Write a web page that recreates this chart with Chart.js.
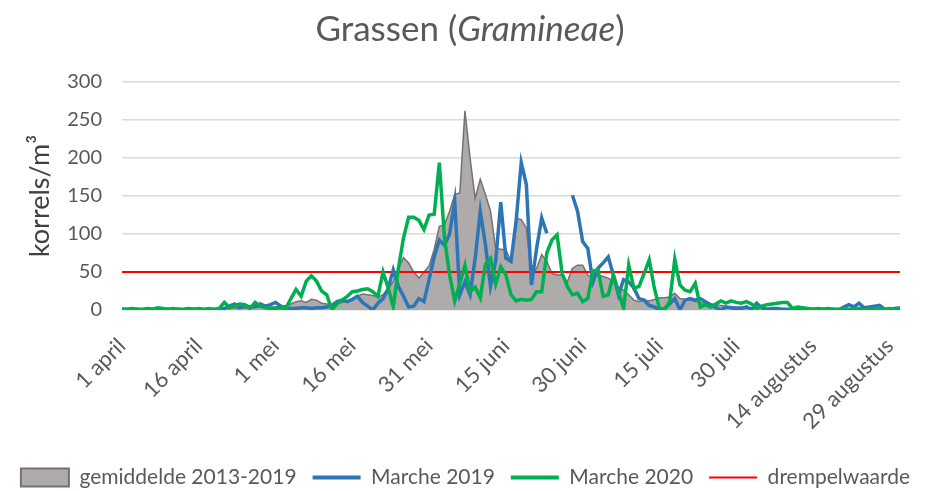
<!DOCTYPE html>
<html>
<head>
<meta charset="utf-8">
<script src="https://cdn.jsdelivr.net/npm/chart.js@4/dist/chart.umd.min.js"></script>
<style>
  body { margin: 0; background: #fff; }
  #wrap { position: relative; width: 931px; height: 491px; }
  #title {
    position: absolute; left: 0; top: 6px; width: 940px; text-align: center;
    font-family: Lato, sans-serif; font-size: 35px; color: #595959;
  }
</style>
</head>
<body>
<div id="wrap">
  <div id="title">Grassen (<i>Gramineae</i>)</div>
  <canvas id="chart" width="931" height="491"></canvas>
</div>
<script>
// day labels 1 april .. 31 augustus, only every 15th one is shown
const months = [["april", 30], ["mei", 31], ["juni", 30], ["juli", 31], ["augustus", 31]];
const days = [];
months.forEach(([name, n]) => {
  for (let d = 1; d <= n; d++) days.push(d + " " + name);
});

const seriesNames = ["gemiddelde 2013-2019", "Marche 2019", "Marche 2020", "drempelwaarde"];

const average = [
  0, 0, 0, 1, 0, 0, 1, 0, 1, 0, 1, 1, 0, 1, 1, 0, 1, 1, 2, 1,
  2, 2, 3, 2, 3, 2, 3, 4, 3, 4, 4, 5, 6, 8, 11, 12, 10, 14, 13, 9,
  8, 7, 9, 10, 12, 15, 18, 21, 20, 19, 17, 20, 28, 38, 55, 69, 62, 50, 42, 50,
  58, 80, 110, 112, 130, 152, 154, 262, 200, 147, 172, 152, 130, 81, 80, 79, 64, 121, 119, 108,
  46, 55, 73, 64, 48, 46, 46, 37, 55, 59, 59, 46, 42, 46, 44, 42, 37, 30, 26, 20,
  13, 11, 13, 12, 14, 16, 16, 17, 22, 15, 14, 13, 11, 10, 9, 8, 7, 6, 5, 4,
  4, 4, 3, 3, 3, 2, 2, 2, 1, 1, 1, 1, 1, 1, 1, 1, 1, 1, 1, 1,
  1, 1, 1, 1, 1, 1, 1, 1, 1, 1, 1, 1, 1
];

const marche2019 = [
  1, 1, 0, 1, 0, 0, 1, 0, 0, 1, 0, 1, 0, 0, 1, 0, 0, 1, 0, 1,
  2, 5, 8, 3, 6, 4, 5, 8, 5, 7, 10, 5, 2, 2, 2, 3, 3, 2, 3, 3,
  4, 6, 11, 13, 11, 14, 18, 10, 5, 0, 9, 15, 28, 53, 31, 18, 4, 5, 15, 11,
  40, 70, 92, 85, 100, 143, 20, 37, 20, 68, 130, 86, 31, 64, 142, 68, 64, 117, 194, 165,
  33, 81, 121, 101, null, null, null, null, 151, 130, 90, 81, 37, 55, 62, 70, 46, 20, 40, 37,
  29, 15, 13, 6, 4, 0, 2, 8, 15, 0, 13, 15, 13, 15, 11, 7, 3, 0, 4, 3,
  2, 2, 4, 1, 9, 3, 1, 2, 2, 1, 1, 0, 0, 1, 0, 1, 0, 1, 0, 1,
  0, 4, 7, 4, 9, 3, 4, 5, 6, 1, 1, 2, 3
];

const marche2020 = [
  1, 1, 2, 1, 1, 2, 1, 3, 2, 1, 2, 1, 1, 2, 1, 2, 1, 2, 1, 2,
  10, 3, 6, 8, 7, 2, 10, 5, 3, 2, 2, 3, 2, 15, 27, 18, 38, 45, 38, 25,
  20, 0, 8, 13, 18, 24, 25, 27, 28, 24, 18, 50, 29, 4, 55, 95, 122, 122, 118, 106,
  125, 126, 194, 95, 46, 12, 35, 59, 24, 30, 16, 60, 68, 34, 57, 46, 20, 12, 14, 13,
  14, 24, 24, 75, 92, 99, 48, 31, 20, 22, 11, 15, 51, 53, 18, 20, 46, 24, 2, 59,
  29, 31, 48, 66, 29, 2, 0, 11, 67, 33, 26, 24, 35, 4, 7, 4, 8, 12, 9, 12,
  10, 9, 11, 8, 2, 5, 7, 8, 9, 10, 10, 2, 4, 3, 2, 1, 2, 1, 2, 1,
  1, 2, 1, 1, 2, 1, 1, 2, 1, 1, 2, 1, 2
];

const threshold = days.map(() => 50);

const yTicks = [0, 50, 100, 150, 200, 250, 300];

const font = "Lato, sans-serif";
const grey = "#595959";

new Chart(document.getElementById("chart"), {
  type: "line",
  data: {
    labels: days,
    datasets: [
      {
        label: seriesNames[0],
        data: average,
        fill: "origin",
        backgroundColor: "#AFABAB",
        borderColor: "#767171",
        borderWidth: 1.5,
        pointRadius: 0,
        order: 4,
      },
      {
        label: seriesNames[1],
        data: marche2019,
        borderColor: "#2E75B6",
        backgroundColor: "#2E75B6",
        borderWidth: 3.5,
        pointRadius: 0,
        spanGaps: false,
        order: 2,
      },
      {
        label: seriesNames[2],
        data: marche2020,
        borderColor: "#00B050",
        backgroundColor: "#00B050",
        borderWidth: 3.5,
        pointRadius: 0,
        order: 1,
      },
      {
        label: seriesNames[3],
        data: threshold,
        borderColor: "#FF0000",
        backgroundColor: "#FF0000",
        borderWidth: 2,
        pointRadius: 0,
        order: 3,
      },
    ],
  },
  options: {
    responsive: false,
    animation: false,
    layout: {
      padding: { top: 82, left: 0, right: 0, bottom: -7 },
    },
    scales: {
      x: {
        grid: { display: false },
        border: { display: false },
        ticks: {
          autoSkip: false,
          minRotation: 45,
          maxRotation: 45,
          padding: 15,
          color: grey,
          font: { family: font, size: 22 },
          callback: (v, i) => (i % 15 === 0 && i <= 150 ? days[i] : null),
        },
        afterFit: (scale) => {
          scale.height = 141;
        },
      },
      y: {
        min: 0,
        max: 300,
        afterBuildTicks: (scale) => {
          scale.ticks = yTicks.map((v) => ({ value: v }));
        },
        grid: { color: "#D9D9D9", lineWidth: 1.5, drawTicks: false },
        border: { display: false },
        ticks: {
          padding: 20,
          color: grey,
          font: { family: font, size: 20 },
        },
        title: {
          display: true,
          text: "korrels/m³",
          color: "#404040",
          font: { family: font, size: 27 },
          padding: { top: 24, bottom: 0 },
        },
        afterFit: (scale) => {
          scale.width = 122;
        },
      },
      // empty axis on the right, only keeps the plot clear of the edge
      yRight: {
        position: "right",
        min: 0,
        max: 300,
        grid: { display: false },
        border: { display: false },
        ticks: { display: false },
        afterFit: (scale) => {
          scale.width = 31;
        },
      },
    },
    plugins: {
      tooltip: { enabled: false },
      legend: {
        position: "bottom",
        labels: {
          usePointStyle: true,
          pointStyleWidth: 48,
          boxHeight: 18,
          padding: 16,
          color: grey,
          font: { family: font, size: 21 },
          generateLabels: (chart) => {
            const items = Chart.defaults.plugins.legend.labels.generateLabels(chart);
            items.sort((a, b) => a.datasetIndex - b.datasetIndex);
            items.forEach((it) => {
              const ds = chart.data.datasets[it.datasetIndex];
              if (it.datasetIndex === 0) {
                it.pointStyle = "rect";
                it.fillStyle = ds.backgroundColor;
                it.strokeStyle = ds.borderColor;
                it.lineWidth = 2;
              } else {
                it.pointStyle = "line";
                it.strokeStyle = ds.borderColor;
                it.lineWidth = it.datasetIndex === 3 ? 2 : 4;
              }
            });
            return items;
          },
        },
      },
    },
  },
});
</script>
</body>
</html>
